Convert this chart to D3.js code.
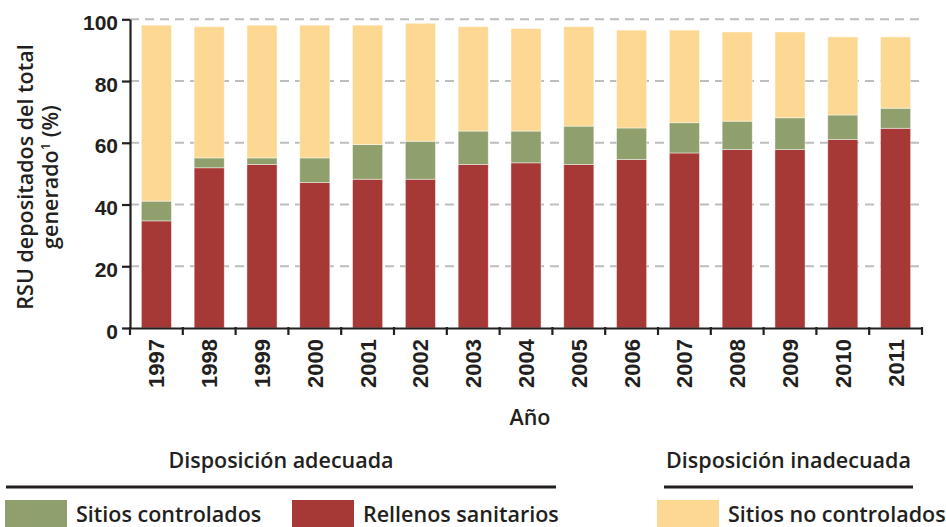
<!DOCTYPE html>
<html>
<head>
<meta charset="utf-8">
<script src="https://cdn.jsdelivr.net/npm/d3@7"></script>
<style>
  html, body { margin: 0; padding: 0; background: #fff; }
  svg { display: block; font-family: "Open Sans", "DejaVu Sans", sans-serif; }
</style>
</head>
<body>
<svg id="chart" width="946" height="527"></svg>
<script>
// Años del periodo
const years = ["1997", "1998", "1999", "2000", "2001", "2002", "2003", "2004",
               "2005", "2006", "2007", "2008", "2009", "2010", "2011"];
// Porcentaje de RSU depositados en rellenos sanitarios
const rellenosSanitarios = [34.7, 51.9, 53.0, 47.1, 48.2, 48.2, 53.0, 53.5, 53.0, 54.6, 56.7, 57.8, 57.8, 61.1, 64.7];
// Porcentaje depositado en sitios controlados
const sitiosControlados = [6.4, 3.2, 2.1, 8.0, 11.2, 12.3, 10.8, 10.3, 12.4, 10.2, 9.8, 9.2, 10.3, 7.9, 6.5];
// Porcentaje depositado en sitios no controlados
const sitiosNoControlados = [57.0, 42.5, 43.0, 43.0, 38.7, 38.2, 33.8, 33.2, 32.2, 31.7, 30.0, 28.9, 27.8, 25.3, 23.1];
// Marcas del eje vertical
const yTicks = [0, 20, 40, 60, 80, 100];

const seriesKeys = ["rellenos", "controlados", "noControlados"];
const seriesNames = {
  rellenos: "Rellenos sanitarios",
  controlados: "Sitios controlados",
  noControlados: "Sitios no controlados"
};
const colors = {
  rellenos: "#A63835",
  controlados: "#8FA06C",
  noControlados: "#FDD893"
};

const table = years.map((y, i) => ({
  year: y,
  rellenos: rellenosSanitarios[i],
  controlados: sitiosControlados[i],
  noControlados: sitiosNoControlados[i]
}));

const svg = d3.select("#chart");
const inkColor = "#231f20";
const labelSize = "21.5px";

const x = d3.scaleBand().domain(years).range([130, 922]).paddingInner(0.43).paddingOuter(0.215);
const y = d3.scaleLinear().domain([0, 100]).range([328, 19.3]);

// Líneas de referencia punteadas
svg.append("g")
  .selectAll("line")
  .data(yTicks.filter(d => d > 0))
  .join("line")
  .attr("x1", 130)
  .attr("x2", 921)
  .attr("y1", d => y(d))
  .attr("y2", d => y(d))
  .attr("stroke", "#bdbdbd")
  .attr("stroke-width", 2)
  .attr("stroke-dasharray", "9,6");

// Barras apiladas
const stacked = d3.stack().keys(seriesKeys)(table);
svg.append("g")
  .selectAll("g")
  .data(stacked)
  .join("g")
  .attr("fill", d => colors[d.key])
  .selectAll("rect")
  .data(d => d)
  .join("rect")
  .attr("x", d => x(d.data.year))
  .attr("width", x.bandwidth())
  .attr("y", d => y(d[1]))
  .attr("height", d => y(d[0]) - y(d[1]))
  .attr("stroke", "rgba(255,255,255,0.55)")
  .attr("stroke-width", 0.8);

// Eje vertical
const yAxis = svg.append("g")
  .attr("transform", "translate(130,0)")
  .call(d3.axisLeft(y).tickValues(yTicks).tickSize(8).tickSizeOuter(0).tickPadding(4));
yAxis.select(".domain").attr("stroke", inkColor).attr("stroke-width", 2.2);
yAxis.selectAll(".tick line").attr("stroke", inkColor).attr("stroke-width", 2.2);
yAxis.selectAll(".tick text")
  .attr("fill", inkColor)
  .style("font-size", "21px")
  .style("font-weight", 600)
  .attr("dy", "0.48em");

// Eje horizontal
const xAxis = svg.append("g")
  .attr("transform", "translate(0,328)")
  .call(d3.axisBottom(x).tickSize(0).tickSizeOuter(0));
xAxis.select(".domain").attr("stroke", inkColor).attr("stroke-width", 2.2);
xAxis.selectAll(".tick text")
  .attr("fill", inkColor)
  .style("font-size", "22px")
  .style("font-weight", 600)
  .attr("text-anchor", "end")
  .attr("transform", "rotate(-90)")
  .attr("x", -11)
  .attr("y", 0)
  .attr("dy", "0.36em");

// Marcas entre categorías
const edges = years.map(yr => x(yr) - x.step() * x.paddingInner() / 2);
edges.push(922);
edges[0] = 130;
svg.append("g")
  .selectAll("line")
  .data(edges)
  .join("line")
  .attr("x1", d => d).attr("x2", d => d)
  .attr("y1", 327).attr("y2", 335)
  .attr("stroke", inkColor)
  .attr("stroke-width", 2.2);

// Títulos de ejes
svg.append("text")
  .attr("x", 530).attr("y", 425)
  .attr("text-anchor", "middle")
  .attr("fill", inkColor)
  .style("font-size", labelSize).style("font-weight", 600)
  .text("Año");

const yTitle = svg.append("text")
  .attr("transform", "translate(0,177) rotate(-90)")
  .attr("text-anchor", "middle")
  .attr("fill", inkColor)
  .style("font-size", labelSize).style("font-weight", 600);
yTitle.append("tspan").attr("x", 0).attr("y", 33).text("RSU depositados del total");
const l2 = yTitle.append("tspan").attr("x", 0).attr("y", 58);
l2.append("tspan").text("generado");
l2.append("tspan").attr("dy", -8).style("font-size", "13px").text("1");
l2.append("tspan").attr("dy", 8).text(" (%)");

// Leyenda
const groups = [
  { title: "Disposición adecuada", x1: 6, x2: 556 },
  { title: "Disposición inadecuada", x1: 664, x2: 913 }
];
const lg = svg.append("g");
lg.selectAll("text.group")
  .data(groups)
  .join("text")
  .attr("class", "group")
  .attr("x", d => (d.x1 + d.x2) / 2)
  .attr("y", 468)
  .attr("text-anchor", "middle")
  .attr("fill", inkColor)
  .style("font-size", labelSize).style("font-weight", 600)
  .text(d => d.title);
lg.selectAll("line.group")
  .data(groups)
  .join("line")
  .attr("class", "group")
  .attr("x1", d => d.x1).attr("x2", d => d.x2)
  .attr("y1", 487).attr("y2", 487)
  .attr("stroke", inkColor)
  .attr("stroke-width", 3);

const items = [
  { key: "controlados", x: 5 },
  { key: "rellenos", x: 292 },
  { key: "noControlados", x: 657 }
];
lg.selectAll("rect.item")
  .data(items)
  .join("rect")
  .attr("class", "item")
  .attr("x", d => d.x).attr("y", 500)
  .attr("width", 62).attr("height", 30)
  .attr("fill", d => colors[d.key]);
lg.selectAll("text.item")
  .data(items)
  .join("text")
  .attr("class", "item")
  .attr("x", d => d.x + 71)
  .attr("y", 522)
  .attr("fill", inkColor)
  .style("font-size", labelSize).style("font-weight", 600)
  .text(d => seriesNames[d.key]);
</script>
</body>
</html>
